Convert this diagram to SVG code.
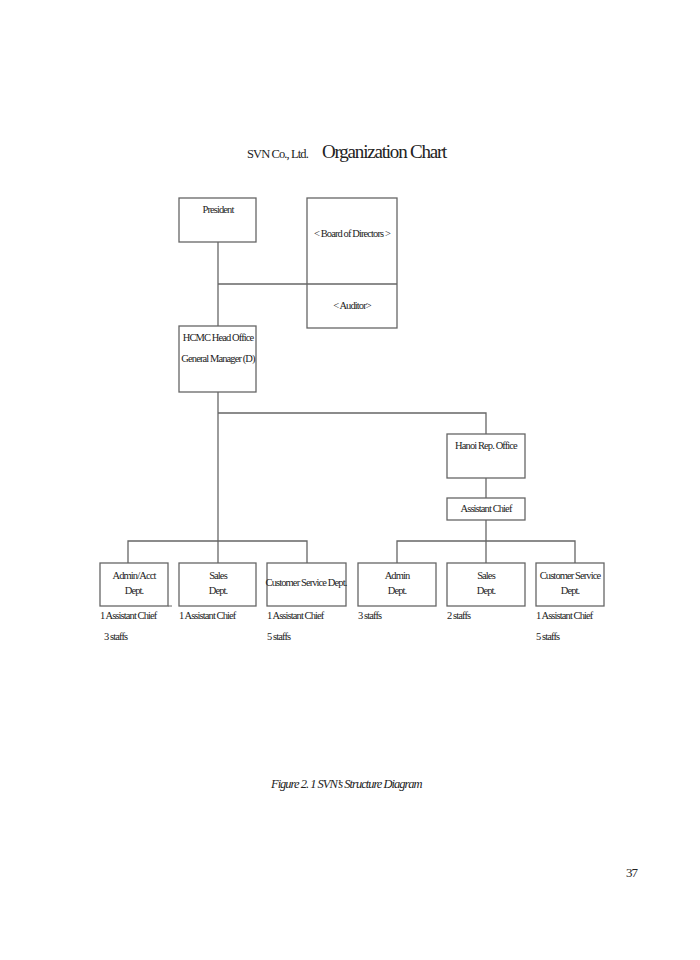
<svg xmlns="http://www.w3.org/2000/svg" width="700" height="960" viewBox="0 0 700 960">
<style>
rect.b{fill:#fff;stroke:#666;stroke-width:1.3}
.c line,.c polyline{stroke:#666;stroke-width:1.3;fill:none}
text{font-family:"Liberation Serif",serif;font-size:10.5px;fill:#222;letter-spacing:-0.9px}
.m{text-anchor:middle}
</style>
<rect width="700" height="960" fill="#fff"/>
<text x="247" y="158" style="font-size:12.5px;letter-spacing:-0.9px">SVN Co., Ltd.</text>
<text x="322" y="158" style="font-size:19px;letter-spacing:-1.2px">Organization Chart</text>
<g class="c">
<line x1="218" y1="242" x2="218" y2="326"/>
<line x1="218" y1="284" x2="397" y2="284"/>
<line x1="218" y1="392" x2="218" y2="563"/>
<polyline points="218,413 486,413 486,434"/>
<line x1="486" y1="478" x2="486" y2="498"/>
<line x1="486" y1="520" x2="486" y2="563"/>
<polyline points="128,563 128,541 307,541 307,563"/>
<polyline points="397,563 397,541 575,541 575,563"/>
</g>
<g id="president"><rect class="b" x="179" y="198" width="77" height="44"/><text class="m" x="218" y="213">President</text></g>
<g id="board"><rect class="b" x="307" y="198" width="90" height="130" style="fill:none"/><text class="m" x="352" y="237">&lt; Board of Directors &gt;</text></g>
<g id="auditor"><text class="m" x="352" y="309">&lt; Auditor&gt;</text></g>
<g id="hcmc"><rect class="b" x="179" y="326" width="77" height="66"/><text class="m" x="218" y="341">HCMC Head Office</text><text class="m" x="218" y="362">General Manager (D)</text></g>
<g id="hanoi"><rect class="b" x="447" y="434" width="78" height="44"/><text class="m" x="486" y="449">Hanoi Rep. Office</text></g>
<g id="asst"><rect class="b" x="447" y="498" width="78" height="22"/><text class="m" x="486" y="512">Assistant  Chief</text></g>
<g id="admin-acct"><rect class="b" x="100" y="563" width="68" height="43"/><line x1="168" y1="606" x2="172" y2="606" stroke="#666"/><text class="m" x="134" y="579">Admin/Acct</text><text class="m" x="134" y="594">Dept.</text></g>
<g id="sales1"><rect class="b" x="179" y="563" width="77" height="43"/><text class="m" x="218" y="579">Sales</text><text class="m" x="218" y="594">Dept.</text></g>
<g id="cs1"><rect class="b" x="267" y="563" width="79" height="43"/><text class="m" x="306" y="586">Customer  Service Dept.</text></g>
<g id="admin2"><rect class="b" x="358" y="563" width="78" height="43"/><text class="m" x="397" y="579">Admin</text><text class="m" x="397" y="594">Dept.</text></g>
<g id="sales2"><rect class="b" x="447" y="563" width="78" height="43"/><text class="m" x="486" y="579">Sales</text><text class="m" x="486" y="594">Dept.</text></g>
<g id="cs2"><rect class="b" x="536" y="563" width="68" height="43"/><text class="m" x="570" y="579">Customer  Service</text><text class="m" x="570" y="594">Dept.</text></g>
<text x="100" y="619">1 Assistant  Chief</text>
<text x="104" y="640">3 staffs</text>
<text x="179" y="619">1 Assistant  Chief</text>
<text x="267" y="619">1 Assistant  Chief</text>
<text x="267" y="640">5 staffs</text>
<text x="358" y="619">3 staffs</text>
<text x="447" y="619">2 staffs</text>
<text x="536" y="619">1 Assistant  Chief</text>
<text x="536" y="640">5 staffs</text>
<text x="271" y="788" font-style="italic" style="font-size:12.5px;letter-spacing:-1px">Figure 2. 1 SVN’s Structure Diagram</text>
<text x="626" y="877" style="font-size:13px">37</text>
</svg>
